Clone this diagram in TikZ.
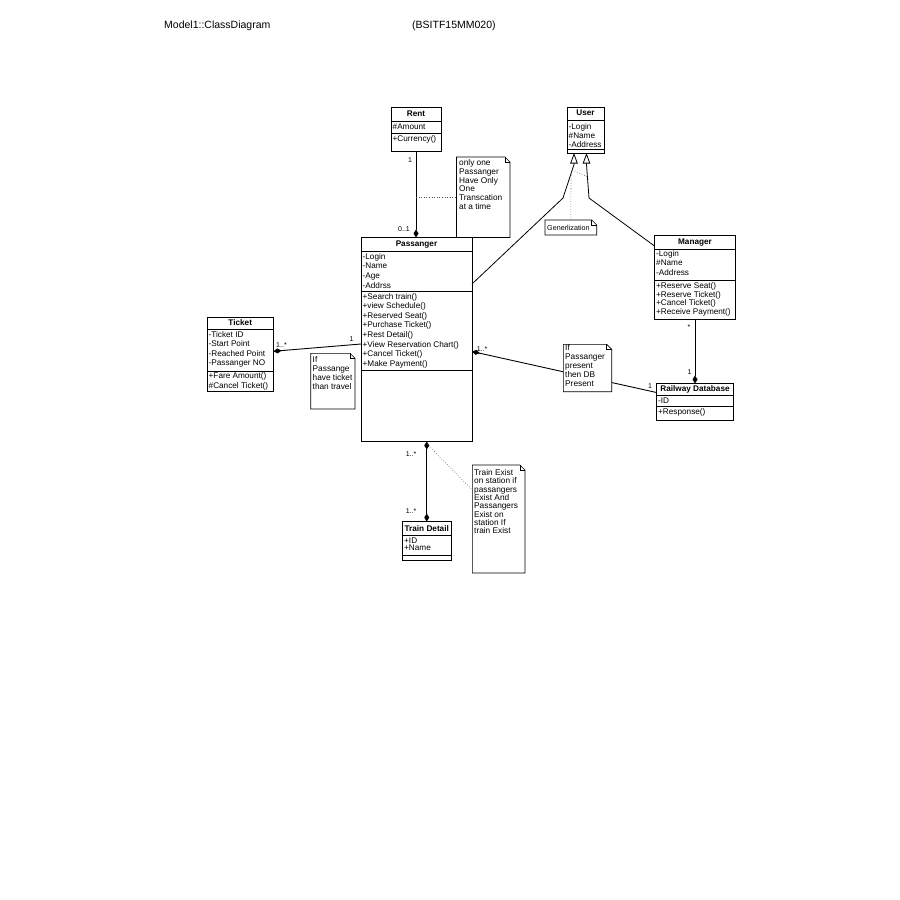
\documentclass[tikz,border=0pt]{standalone}
\usepackage{fontspec}
\setmainfont{Liberation Sans}
\usetikzlibrary{arrows.meta,calc}

\tikzset{
  box/.style={draw, line width=0.9pt, inner sep=0pt, outer sep=0pt, anchor=north west, fill=white},
  sep/.style={line width=0.8pt},
  ttl/.style={font=\fontsize{8.2}{9}\selectfont\bfseries, inner sep=0pt, text height=5.9pt, text depth=1.6pt},
  mem/.style={font=\fontsize{8.2}{9}\selectfont, inner sep=0pt, anchor=west, text height=5.9pt, text depth=1.6pt},
  notebg/.style={fill=white, inner sep=0pt, outer sep=0pt, anchor=north west},
  noteline/.style={line width=0.6pt, line join=miter},
  ntxt/.style={font=\fontsize{8.3}{9}\selectfont, inner sep=0pt, anchor=west, text height=5.8pt, text depth=1.6pt},
  mult/.style={font=\fontsize{7}{8}\selectfont, inner sep=0pt},
  assoc/.style={line width=0.9pt},
  comp/.style={assoc, -{Diamond[length=8pt,width=5pt]}},
  gen/.style={line width=0.8pt, -{Triangle[length=10.5pt,width=7.5pt,fill=white]}},
  anchorline/.style={dotted, line width=0.6pt, black!70},
  hdrtext/.style={font=\fontsize{10.5}{12}\selectfont, anchor=west, inner sep=0pt},
}

% outline of a UML note with a folded top-right corner
\newcommand\dogear[1]{%
  \draw[noteline] (#1.north west) -- ($(#1.north east)+(-5,0)$) -- ($(#1.north east)+(0,5)$)
    -- (#1.south east) -- (#1.south west) -- cycle;
  \draw[noteline] ($(#1.north east)+(-5,0)$) -- ($(#1.north east)+(-5,5)$) -- ($(#1.north east)+(0,5)$);
}

\begin{document}
\begin{tikzpicture}[x=1pt,y=-1pt]
\fill[white] (0,0) rectangle (900,900);
\useasboundingbox (0,0) rectangle (900,900);

% header
\node[hdrtext] (hdr) at (164,26) {Model1::ClassDiagram};
\node[hdrtext] (code) at (412,26) {(BSITF15MM020)};

% ---------- classes ----------
% Rent
\node[box, minimum width=50pt, minimum height=44pt] (rent) at (391,107) {};
\draw[sep] (391,121) -- (441,121);
\draw[sep] (391,133) -- (441,133);
\node[ttl] (rent-t) at (416,114) {Rent};
\node[mem] (rent-a) at (392.5,127) {\#Amount};
\node[mem] (rent-o) at (392.5,139) {+Currency()};

% User
\node[box, minimum width=37pt, minimum height=46pt] (user) at (567,107) {};
\draw[sep] (567,120) -- (604,120);
\draw[sep] (567,149.5) -- (604,149.5);
\node[ttl] (user-t) at (585.5,113.5) {User};
\foreach \t [count=\i from 0] in {-Login,\#Name,-Address}
  \node[mem] (user-a\i) at (568.5,127+9*\i) {\t};

% Passanger
\node[box, minimum width=111pt, minimum height=204pt] (pass) at (361,237.5) {};
\draw[sep] (361,251) -- (472,251);
\draw[sep] (361,291) -- (472,291);
\draw[sep] (361,370) -- (472,370);
\node[ttl] (pass-t) at (416.5,244.5) {Passanger};
\foreach \t [count=\i from 0] in {-Login,-Name,-Age,-Addrss}
  \node[mem] (pass-a\i) at (362.5,257+9.8*\i) {\t};
\foreach \t [count=\i from 0] in {+Search train(),+view Schedule(),+Reserved Seat(),+Purchase Ticket(),+Rest Detail(),+View Reservation Chart(),+Cancel Ticket(),+Make Payment()}
  \node[mem] (pass-o\i) at (362.5,297+9.6*\i) {\t};

% Ticket
\node[box, minimum width=66.5pt, minimum height=74.5pt] (ticket) at (207,317) {};
\draw[sep] (207,329.5) -- (273.5,329.5);
\draw[sep] (207,371) -- (273.5,371);
\node[ttl] (ticket-t) at (240.25,323) {Ticket};
\foreach \t [count=\i from 0] in {-Ticket ID,-Start Point,-Reached Point,-Passanger NO}
  \node[mem] (ticket-a\i) at (208.5,335.5+9.3*\i) {\t};
\node[mem] (ticket-o0) at (208.5,376.7) {+Fare Amount()};
\node[mem] (ticket-o1) at (208.5,386) {\#Cancel Ticket()};

% Manager
\node[box, minimum width=81pt, minimum height=84.5pt] (mgr) at (654.5,235) {};
\draw[sep] (654.5,249) -- (735.5,249);
\draw[sep] (654.5,280) -- (735.5,280);
\node[ttl] (mgr-t) at (695,242.5) {Manager};
\foreach \t [count=\i from 0] in {-Login,\#Name,-Address}
  \node[mem] (mgr-a\i) at (656,254.3+9.5*\i) {\t};
\foreach \t [count=\i from 0] in {+Reserve Seat(),+Reserve Ticket(),+Cancel Ticket(),+Receive Payment()}
  \node[mem] (mgr-o\i) at (656,286.7+8.4*\i) {\t};

% Railway Database
\node[box, minimum width=77pt, minimum height=36.5pt] (rdb) at (656.5,383.5) {};
\draw[sep] (656.5,395) -- (733.5,395);
\draw[sep] (656.5,406.5) -- (733.5,406.5);
\node[ttl] (rdb-t) at (695,389.3) {Railway Database};
\node[mem] (rdb-a) at (658,401) {-ID};
\node[mem] (rdb-o) at (658,412.7) {+Response()};

% Train Detail
\node[box, minimum width=48.5pt, minimum height=38.5pt] (train) at (402.5,521.5) {};
\draw[sep] (402.5,535) -- (451,535);
\draw[sep] (402.5,555) -- (451,555);
\node[ttl] (train-t) at (426.75,529) {Train Detail};
\node[mem] (train-a0) at (404,541) {+ID};
\node[mem] (train-a1) at (404,548.3) {+Name};

% ---------- associations ----------
\draw[comp] (rent.south) -- (rent.south |- pass.north);
\node[mult] (m-rent1) at (410,160) {1};
\node[mult] (m-rent2) at (404,229) {0..1};

\draw[comp] ($(pass.west)+(0,4.5)$) -- ($(ticket.east)+(0,-3)$);
\node[mult] (m-tk1) at (281.5,345) {1..*};
\node[mult] (m-tk2) at (351.5,339.5) {1};

\draw[comp] ($(rdb.west)+(0,-9.25)$) -- ($(pass.east)+(0,12)$);
\node[mult] (m-db1) at (482,349) {1..*};
\node[mult] (m-db2) at (650,386) {1};

\draw[comp] (mgr.south) -- (rdb.north);
\node[mult] (m-mg1) at (689,327.5) {*};
\node[mult] (m-mg2) at (689.5,372) {1};

\draw[assoc, {Diamond[length=8pt,width=5pt]}-{Diamond[length=8pt,width=5pt]}] (train.north |- pass.south) -- (train.north);
\node[mult] (m-tr1) at (411,454) {1..*};
\node[mult] (m-tr2) at (411,511) {1..*};

% ---------- generalization ----------
\coordinate (gl1) at (563,198);
\coordinate (gl2) at (574,164.5);
\coordinate (gr1) at (589,198);
\coordinate (gr2) at (586.5,164.5);
\draw[gen] ($(pass.north east)+(0,46.5)$) -- (gl1) -- (gl2) -- ($(user.south west)+(7,0)$);
\draw[gen] ($(mgr.north west)+(0,11)$) -- (gr1) -- (gr2) -- ($(user.south west)+(19.5,0)$);
\coordinate (gd1) at (572.3,170);
\coordinate (gd2) at (587.4,177);
\coordinate (gd3) at (571,174);
\draw[anchorline] (gd1) -- (gd2);

% ---------- notes ----------
\node[notebg, minimum width=53.5pt, minimum height=80.5pt] (n1) at (456.5,157) {};
\dogear{n1}
\foreach \t [count=\i from 0] in {only one,Passanger,Have Only,One,Transcation,at a time}
  \node[ntxt] (n1-l\i) at (459,163.3+8.8*\i) {\t};
\draw[anchorline] (rent.south |- n1.west) -- (n1.west);

\node[notebg, minimum width=44.3pt, minimum height=55.7pt] (n2) at (310.7,353.3) {};
\dogear{n2}
\foreach \t [count=\i from 0] in {If,Passange,have ticket,than travel}
  \node[ntxt] (n2-l\i) at (312.5,360+9*\i) {\t};

\node[notebg, minimum width=48.4pt, minimum height=47.4pt] (n3) at (563.3,344.3) {};
\dogear{n3}
\foreach \t [count=\i from 0] in {If,Passanger,present,then DB,Present}
  \node[ntxt] (n3-l\i) at (565,348.6+8.9*\i) {\t};

\node[notebg, minimum width=52.7pt, minimum height=108pt] (n4) at (472.3,465) {};
\dogear{n4}
\foreach \t [count=\i from 0] in {Train Exist,on station if,passangers,Exist And,Passangers,Exist on,station If,train Exist}
  \node[ntxt] (n4-l\i) at (474,473.3+8.35*\i) {\t};
\draw[anchorline] ($(pass.south)+(10.5,2.5)$) -- ($(n4.north west)+(0,25)$);

\node[notebg, minimum width=51.7pt, minimum height=15pt] (ngen) at (545,220) {};
\dogear{ngen}
\node[font=\fontsize{7.2}{8}\selectfont, inner sep=0pt, anchor=west] (ngen-t) at (547,227.5) {Generlization};
\draw[anchorline] (ngen.north) -- (gd3);

\end{tikzpicture}
\end{document}
